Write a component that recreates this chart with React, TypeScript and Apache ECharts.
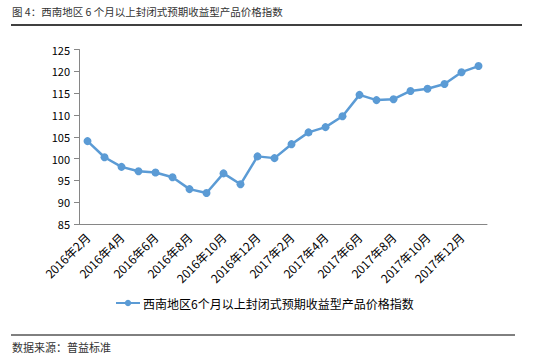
import React, { useEffect, useRef } from "react";
import * as echarts from "echarts";

const categories = [
  "2016年2月", "2016年3月", "2016年4月", "2016年5月", "2016年6月", "2016年7月",
  "2016年8月", "2016年9月", "2016年10月", "2016年11月", "2016年12月", "2017年1月",
  "2017年2月", "2017年3月", "2017年4月", "2017年5月", "2017年6月", "2017年7月",
  "2017年8月", "2017年9月", "2017年10月", "2017年11月", "2017年12月", "2018年1月",
];
const values = [
  104.0, 100.3, 98.1, 97.1, 96.8, 95.7, 93.0, 92.1, 96.6, 94.1, 100.5, 100.1,
  103.3, 106.0, 107.2, 109.7, 114.6, 113.4, 113.6, 115.5, 116.0, 117.1, 119.8, 121.2,
];
const seriesName = "西南地区6个月以上封闭式预期收益型产品价格指数";
const titleText = "图 4：西南地区 6 个月以上封闭式预期收益型产品价格指数";
const sourceText = "数据来源：普益标准";
const yMin = 85;
const yMax = 125;
const yInterval = 5;

const FONT = "'Noto Sans CJK SC', sans-serif";

export default function App() {
  const ref = useRef<HTMLDivElement>(null);
  useEffect(() => {
    if (!ref.current) return;
    const chart = echarts.init(ref.current, undefined, { renderer: "svg" });
    chart.setOption({
      animation: false,
      backgroundColor: "#ffffff",
      textStyle: { fontFamily: FONT },
      grid: { left: 79, right: 47, top: 49.5, bottom: 135, containLabel: false },
      graphic: [
        {
          type: "text",
          left: 12,
          top: 6,
          style: { text: titleText, font: `10.5px ${FONT}`, fill: "#333333" },
        },
        {
          type: "line",
          shape: { x1: 11, y1: 25, x2: 522, y2: 25 },
          style: { stroke: "#000000", lineWidth: 1.5 },
        },
        {
          type: "line",
          shape: { x1: 11, y1: 335, x2: 515, y2: 335 },
          style: { stroke: "#000000", lineWidth: 1 },
        },
        {
          type: "text",
          left: 12,
          top: 341,
          style: { text: sourceText, font: `11px ${FONT}`, fill: "#333333" },
        },
      ],
      legend: {
        show: true,
        left: 115,
        top: 297,
        padding: 0,
        itemWidth: 24,
        itemHeight: 8,
        itemGap: 4,
        textStyle: { fontSize: 12, color: "#000000", fontFamily: FONT, padding: [0, 0, 0, -2] },
        data: [seriesName],
      },
      xAxis: {
        type: "category",
        data: categories,
        boundaryGap: true,
        axisLine: { lineStyle: { color: "#868686", width: 1 } },
        axisTick: { interval: 1, length: 5, lineStyle: { color: "#868686" } },
        axisLabel: {
          interval: 1,
          rotate: 45,
          fontSize: 12,
          color: "#000000",
          margin: 11,
          fontFamily: FONT,
        },
        splitLine: { show: false },
      },
      yAxis: {
        type: "value",
        min: yMin,
        max: yMax,
        interval: yInterval,
        axisLine: { show: true, lineStyle: { color: "#868686", width: 1 } },
        axisTick: { show: true, length: 5, lineStyle: { color: "#868686" } },
        axisLabel: { fontSize: 11, color: "#000000", margin: 9, fontFamily: FONT },
        splitLine: { show: false },
      },
      series: [
        {
          name: seriesName,
          type: "line",
          data: values,
          symbol: "circle",
          symbolSize: 8,
          itemStyle: { color: "#5B9BD5" },
          lineStyle: { color: "#5B9BD5", width: 2.5 },
        },
      ],
    });
    return () => chart.dispose();
  }, []);
  return <div ref={ref} style={{ width: 534, height: 359, position: "absolute", left: 0, top: 0 }} />;
}
